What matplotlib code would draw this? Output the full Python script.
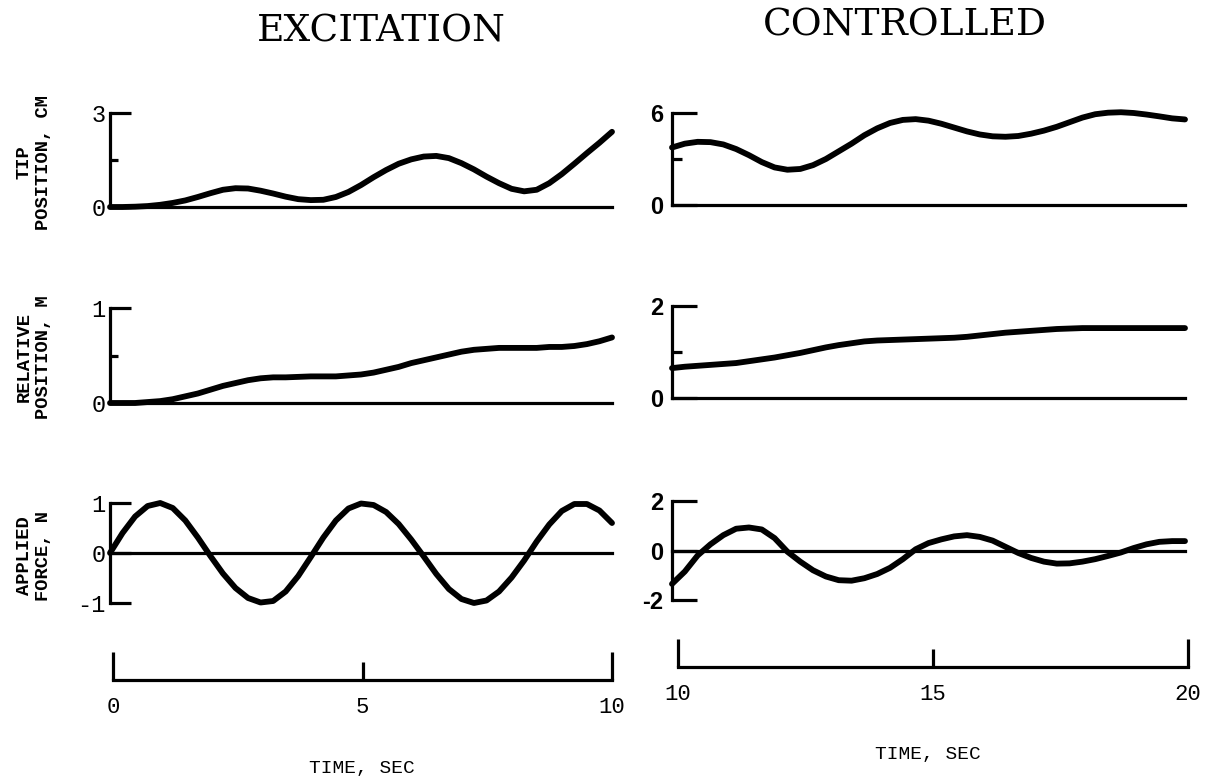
import matplotlib
matplotlib.use("Agg")
import matplotlib.pyplot as plt
from matplotlib.ticker import FixedLocator

# ---------------- data ----------------
t_left = [0.0, 0.25, 0.5, 0.75, 1.0, 1.25, 1.5, 1.75, 2.0, 2.25, 2.5, 2.75, 3.0, 3.25,
          3.5, 3.75, 4.0, 4.25, 4.5, 4.75, 5.0, 5.25, 5.5, 5.75, 6.0, 6.25, 6.5, 6.75,
          7.0, 7.25, 7.5, 7.75, 8.0, 8.25, 8.5, 8.75, 9.0, 9.25, 9.5, 9.75, 10.0]
t_right = [10.0, 10.25, 10.5, 10.75, 11.0, 11.25, 11.5, 11.75, 12.0, 12.25, 12.5, 12.75,
           13.0, 13.25, 13.5, 13.75, 14.0, 14.25, 14.5, 14.75, 15.0, 15.25, 15.5, 15.75,
           16.0, 16.25, 16.5, 16.75, 17.0, 17.25, 17.5, 17.75, 18.0, 18.25, 18.5, 18.75,
           19.0, 19.25, 19.5, 19.75, 20.0]

tip_exc = [0.00, 0.00, 0.01, 0.03, 0.07, 0.13, 0.21, 0.32, 0.44, 0.55, 0.60, 0.59, 0.52,
           0.43, 0.33, 0.25, 0.22, 0.23, 0.32, 0.48, 0.70, 0.95, 1.18, 1.38, 1.52, 1.61,
           1.63, 1.56, 1.40, 1.20, 0.97, 0.76, 0.58, 0.50, 0.55, 0.76, 1.05, 1.38, 1.72,
           2.05, 2.40]
rel_exc = [0.00, 0.00, 0.00, 0.01, 0.02, 0.04, 0.07, 0.10, 0.14, 0.18, 0.21, 0.24, 0.26,
           0.27, 0.27, 0.275, 0.28, 0.28, 0.28, 0.29, 0.30, 0.32, 0.35, 0.38, 0.42, 0.45,
           0.48, 0.51, 0.54, 0.56, 0.57, 0.58, 0.58, 0.58, 0.58, 0.59, 0.59, 0.60, 0.62,
           0.65, 0.69]
force_exc = [0.00, 0.40, 0.73, 0.94, 1.00, 0.90, 0.65, 0.31, -0.06, -0.41, -0.70, -0.90,
             -0.99, -0.96, -0.77, -0.46, -0.08, 0.31, 0.65, 0.89, 0.99, 0.96, 0.82, 0.58,
             0.27, -0.07, -0.42, -0.72, -0.92, -1.00, -0.95, -0.77, -0.49, -0.15, 0.23,
             0.57, 0.84, 0.98, 0.98, 0.85, 0.60]

tip_ctl = [3.75, 4.00, 4.12, 4.10, 3.95, 3.65, 3.25, 2.80, 2.45, 2.30, 2.35, 2.60, 3.00,
           3.50, 4.00, 4.55, 5.00, 5.35, 5.55, 5.60, 5.50, 5.30, 5.05, 4.80, 4.60, 4.48,
           4.45, 4.50, 4.65, 4.85, 5.10, 5.40, 5.70, 5.92, 6.02, 6.05, 6.00, 5.90, 5.78,
           5.65, 5.58]
rel_ctl = [0.65, 0.68, 0.70, 0.72, 0.74, 0.76, 0.80, 0.84, 0.88, 0.93, 0.98, 1.04, 1.10,
           1.15, 1.19, 1.23, 1.25, 1.26, 1.27, 1.28, 1.29, 1.30, 1.31, 1.33, 1.36, 1.39,
           1.42, 1.44, 1.46, 1.48, 1.50, 1.51, 1.52, 1.52, 1.52, 1.52, 1.52, 1.52, 1.52,
           1.52, 1.52]
force_ctl = [-1.35, -0.85, -0.20, 0.25, 0.62, 0.88, 0.93, 0.85, 0.50, -0.05, -0.45, -0.80,
             -1.05, -1.20, -1.22, -1.12, -0.95, -0.70, -0.35, 0.05, 0.30, 0.45, 0.57, 0.62,
             0.55, 0.40, 0.15, -0.10, -0.30, -0.45, -0.53, -0.52, -0.45, -0.35, -0.22,
             -0.08, 0.10, 0.25, 0.35, 0.38, 0.38]

col_titles = ["EXCITATION", "CONTROLLED"]
row_labels = ["TIP\nPOSITION, CM", "RELATIVE\nPOSITION, M", "APPLIED\nFORCE, N"]
left_yticks = [[0, 3], [0, 1], [-1, 0, 1]]
left_yticklabels = [["0", "3"], ["0", "1"], ["-1", "0", "1"]]
left_yminor = [[1.5], [0.5], []]
right_yticks = [[0, 6], [0, 2], [-2, 0, 2]]
right_yticklabels = [["0", "6"], ["0", "2"], ["-2", "0", "2"]]
right_yminor = [[3], [1], []]
time_ticks_left = [0, 10]
time_minor_left = [5]
time_ticks_right = [10, 20]
time_minor_right = [15]
time_label = "TIME, SEC"

# ---------------- layout ----------------
W, H = 1219, 780
fig = plt.figure(figsize=(W / 100, H / 100), dpi=100)
fig.patch.set_facecolor("white")

MONO = ["Liberation Mono", "DejaVu Sans Mono"]
NARROW = ["Liberation Sans Narrow", "Liberation Sans", "DejaVu Sans"]
SERIF = ["DejaVu Serif"]


def px_axes(x0, x1, ytop, ybot):
    return fig.add_axes([x0 / W, 1 - ybot / H, (x1 - x0) / W, (ybot - ytop) / H])


SPINE_LW = 2.3
CURVE_LW = 4.2

left_rows = [(113, 207), (308, 403), (503, 603)]
right_rows = [(113, 205), (306, 398), (501, 600)]
left_lims = [(0, 3), (0, 1), (-1, 1)]
right_lims = [(0, 6), (0, 2), (-2, 2)]
left_series = [tip_exc, rel_exc, force_exc]
right_series = [tip_ctl, rel_ctl, force_ctl]


def style_panel(ax, xlim, ylim, ticks, labels, minor, major_len, minor_len, fam, fsize, pad,
                weight="normal"):
    ax.set_xlim(*xlim)
    ax.set_ylim(*ylim)
    ax.patch.set_alpha(0)
    for s in ("top", "right"):
        ax.spines[s].set_visible(False)
    ax.spines["left"].set_linewidth(SPINE_LW)
    ax.spines["bottom"].set_linewidth(SPINE_LW)
    ax.spines["bottom"].set_position(("data", 0))
    ax.spines["left"].set_capstyle("projecting")
    ax.set_xticks([])
    ax.yaxis.set_major_locator(FixedLocator(ticks))
    ax.set_yticklabels(labels)
    ax.yaxis.set_minor_locator(FixedLocator(minor))
    ax.tick_params(axis="y", which="major", direction="in", length=major_len,
                   width=SPINE_LW, pad=pad, labelsize=fsize)
    ax.tick_params(axis="y", which="minor", direction="in", length=minor_len,
                   width=SPINE_LW)
    for lbl in ax.get_yticklabels():
        lbl.set_family(fam)
        lbl.set_weight(weight)


for i in range(3):
    yt, yb = left_rows[i]
    ax = px_axes(110, 612, yt, yb)
    style_panel(ax, (0, 10), left_lims[i], left_yticks[i], left_yticklabels[i],
                left_yminor[i], 15, 6, MONO, 17, 3)
    ax.plot(t_left, left_series[i], color="black", lw=CURVE_LW, clip_on=False,
            solid_capstyle="round", solid_joinstyle="round")

    yt, yb = right_rows[i]
    ax = px_axes(672, 1185, yt, yb)
    style_panel(ax, (10, 20), right_lims[i], right_yticks[i], right_yticklabels[i],
                right_yminor[i], 18, 7, NARROW, 17, 6, weight="bold")
    ax.plot(t_right, right_series[i], color="black", lw=CURVE_LW, clip_on=False,
            solid_capstyle="round", solid_joinstyle="round")


def time_axis(x0, x1, ybase, xlim, major, minor):
    ax = px_axes(x0, x1, ybase - 40, ybase)
    ax.set_xlim(*xlim)
    ax.set_ylim(0, 1)
    ax.patch.set_alpha(0)
    for s in ("top", "right", "left"):
        ax.spines[s].set_visible(False)
    ax.spines["bottom"].set_linewidth(SPINE_LW)
    ax.set_yticks([])
    ax.xaxis.set_major_locator(FixedLocator(major))
    ax.xaxis.set_minor_locator(FixedLocator(minor))
    ax.set_xticklabels([str(v) for v in major])
    ax.set_xticklabels([str(v) for v in minor], minor=True)
    ax.tick_params(axis="x", which="major", direction="in", length=20,
                   width=SPINE_LW, pad=12, labelsize=16)
    ax.tick_params(axis="x", which="minor", direction="in", length=13,
                   width=SPINE_LW, pad=12, labelsize=16)
    for lbl in ax.get_xticklabels() + ax.get_xticklabels(minor=True):
        lbl.set_family(MONO)
    return ax


time_axis(113, 612, 680, (0, 10), time_ticks_left, time_minor_left)
time_axis(678, 1188, 667, (10, 20), time_ticks_right, time_minor_right)

fig.text(362 / W, 1 - 768 / H, time_label, ha="center", va="center",
         family=MONO, fontsize=14)
fig.text(928 / W, 1 - 755 / H, time_label, ha="center", va="center",
         family=MONO, fontsize=14)

fig.text(381 / W, 1 - 31 / H, col_titles[0], ha="center", va="center",
         family=SERIF, fontsize=27)
fig.text(905 / W, 1 - 26 / H, col_titles[1], ha="center", va="center",
         family=SERIF, fontsize=27)

label_y = [162, 357, 556]
for lab, yy in zip(row_labels, label_y):
    fig.text(34 / W, 1 - yy / H, lab, ha="center", va="center", rotation=90,
             family=MONO, fontsize=13.5, fontweight="bold", linespacing=1.2,
             multialignment="center")

fig.savefig("out.png", dpi=100, facecolor="white")
